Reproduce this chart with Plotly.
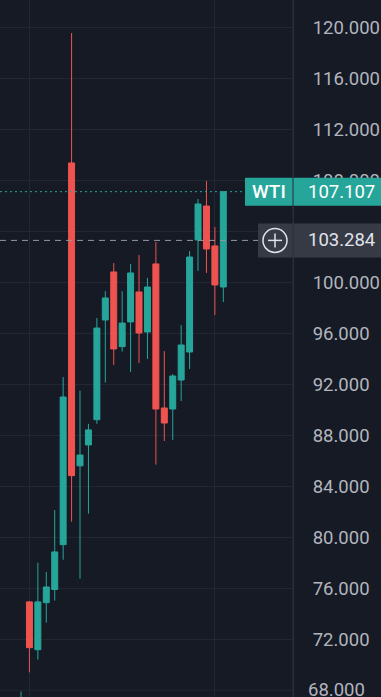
import plotly.graph_objects as go

# ---- data ----
idx = list(range(25))
open_ = [65.5, 74.93, 71.18, 74.87, 75.9, 79.42, 109.36, 85.6, 87.24, 89.22, 97.04, 100.81, 94.95,
         96.89, 99.24, 96.1, 101.44, 90.14, 90.06, 92.33, 94.53, 103.32, 105.98, 102.85, 99.63]
high = [67.9, 75.0, 78.0, 77.28, 82.14, 92.57, 119.55, 91.5, 88.89, 97.2, 99.3, 101.5, 99.3,
        101.43, 102.14, 100.34, 103.16, 94.6, 92.8, 96.64, 102.45, 106.53, 107.94, 104.34, 107.107]
low = [64.8, 69.4, 70.4, 73.3, 75.03, 78.24, 81.22, 76.75, 81.85, 88.9, 92.13, 93.5, 94.56,
       92.96, 93.67, 93.98, 85.7, 87.55, 87.63, 90.69, 93.2, 100.89, 100.73, 97.43, 98.45]
close = [67.2, 71.34, 74.93, 76.1, 78.85, 91.0, 84.83, 86.45, 88.42, 96.41, 98.77, 94.77, 96.8,
         100.73, 96.02, 99.63, 90.06, 88.96, 92.65, 95.08, 101.98, 106.14, 102.61, 99.79, 107.107]

symbol = "WTI"
last_price = 107.107
cross_price = 103.284
y_ticks = [68, 72, 76, 80, 84, 88, 92, 96, 100, 104, 108, 112, 116, 120]
x_grid = [1, 23]

UP = "#26A69A"
DOWN = "#EF5350"
BG = "#161A25"
GRID = "#232733"
TXT = "#B2B5BE"
FONT = "Roboto"

W, H = 381, 697
PW = 293  # plot width in px
Y_RANGE = [67.47, 122.14]

fig = go.Figure()
fig.add_trace(go.Candlestick(
    x=idx, open=open_, high=high, low=low, close=close,
    increasing=dict(line=dict(color=UP, width=1), fillcolor=UP),
    decreasing=dict(line=dict(color=DOWN, width=1), fillcolor=DOWN),
    whiskerwidth=0, hoverinfo="skip", showlegend=False,
))

def px(p):
    return p / PW

# ticks near the bottom edge are dropped by plotly, so draw those by hand
edge_ticks = [v for v in y_ticks if v - Y_RANGE[0] < 1.0]
axis_ticks = [v for v in y_ticks if v not in edge_ticks]
# the 104 label sits entirely under the crosshair label box in the reference
hidden_labels = [v for v in y_ticks if abs(v - cross_price) < 1.0]

shapes = []
annotations = []
for v in edge_ticks:
    shapes.append(dict(type="line", xref="paper", yref="y", x0=0, x1=1, y0=v, y1=v,
                       line=dict(color=GRID, width=1), layer="below"))
    annotations.append(dict(xref="paper", yref="y", x=px(306), y=v, text=f"{v:.3f}",
                            showarrow=False, xanchor="left", yanchor="middle",
                            font=dict(family=FONT, size=18.5, color=TXT)))

shapes += [
    # last price dotted line
    dict(type="line", xref="paper", yref="y", x0=0, x1=px(245), y0=last_price, y1=last_price,
         line=dict(color=UP, width=1, dash="2px,3px"), layer="above"),
    # crosshair dashed line
    dict(type="line", xref="paper", yref="y", x0=0, x1=px(258), y0=cross_price, y1=cross_price,
         line=dict(color="#9598A1", width=1, dash="6px,5px"), layer="above"),
    # WTI label box
    dict(type="rect", xref="paper", yref="y", ysizemode="pixel", yanchor=last_price,
         x0=px(245), x1=1, y0=-14, y1=14, fillcolor=UP, line=dict(width=0), layer="above"),
    dict(type="rect", xref="paper", yref="y", ysizemode="pixel", yanchor=last_price,
         x0=1, x1=px(W), y0=-14, y1=14, fillcolor=UP, line=dict(width=0), layer="above"),
    # crosshair label box
    dict(type="rect", xref="paper", yref="y", ysizemode="pixel", yanchor=cross_price,
         x0=px(258), x1=px(W), y0=-17, y1=17, fillcolor="#363A45", line=dict(width=0), layer="above"),
    # plus icon
    dict(type="circle", xref="paper", yref="y", ysizemode="pixel", yanchor=cross_price,
         x0=px(263), x1=px(287), y0=-12, y1=12, line=dict(color="#E0E3EB", width=1.5), layer="above"),
    dict(type="line", xref="paper", yref="y", ysizemode="pixel", yanchor=cross_price,
         x0=px(268), x1=px(282), y0=0, y1=0, line=dict(color="#E0E3EB", width=1.5), layer="above"),
    dict(type="line", xref="paper", yref="y", ysizemode="pixel", yanchor=cross_price,
         x0=px(275), x1=px(275), y0=-7, y1=7, line=dict(color="#E0E3EB", width=1.5), layer="above"),
    # axis separator
    dict(type="line", xref="paper", yref="paper", x0=1, x1=1, y0=0, y1=1,
         line=dict(color="#2A2E39", width=1), layer="above"),
]

annotations += [
    dict(xref="paper", yref="y", x=px(269), y=last_price, text=symbol, showarrow=False,
         xanchor="center", yanchor="middle",
         font=dict(family=FONT, size=19, color="#FFFFFF", weight=500)),
    dict(xref="paper", yref="y", x=px(306), y=last_price, text=f"{last_price:.3f}", showarrow=False,
         xanchor="left", yanchor="middle", font=dict(family=FONT, size=18.5, color="#FFFFFF")),
    dict(xref="paper", yref="y", x=px(306), y=cross_price, text=f"{cross_price:.3f}", showarrow=False,
         xanchor="left", yanchor="middle", font=dict(family=FONT, size=18.5, color="#E0E3EB")),
]

fig.update_layout(
    width=W, height=H,
    margin=dict(l=0, r=W - PW, t=0, b=0),
    paper_bgcolor=BG, plot_bgcolor=BG,
    boxgap=0.29, boxgroupgap=0,
    shapes=shapes, annotations=annotations,
    xaxis=dict(range=[-21 / 8.43, 272 / 8.43], rangeslider=dict(visible=False),
               tickvals=x_grid, showticklabels=False, showgrid=True, gridcolor=GRID,
               zeroline=False, fixedrange=True),
    yaxis=dict(side="right", range=Y_RANGE, tickvals=axis_ticks,
               ticktext=["" if v in hidden_labels else f"{v:.3f}" for v in axis_ticks],
               showgrid=True, gridcolor=GRID, zeroline=False, ticks="",
               ticklabelstandoff=15, tickfont=dict(family=FONT, size=18.5, color=TXT),
               showline=True, linecolor="#2A2E39", fixedrange=True),
)

fig.write_html("out.html", config={"displayModeBar": False})
